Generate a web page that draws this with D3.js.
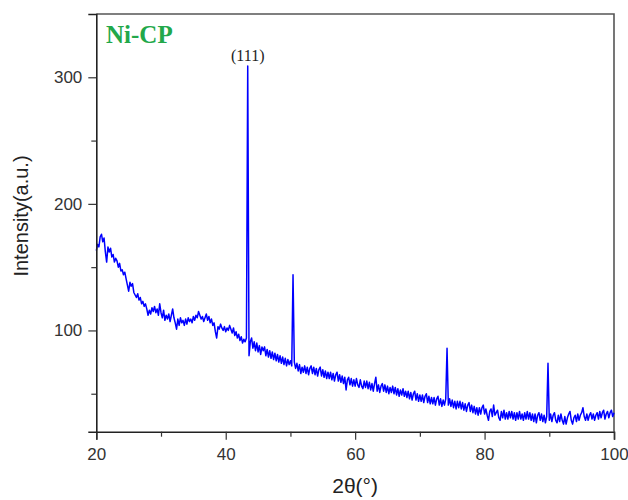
<!DOCTYPE html>
<html>
<head>
<meta charset="utf-8">
<script src="https://cdn.jsdelivr.net/npm/d3@7"></script>
<style>
    body { margin: 0; background: #fff; }
    svg { display: block; }
</style>
</head>
<body>
<div id="chart"></div>
<script>
// XRD pattern of Ni-CP, sampled every 0.2 degrees from 20 to 100.
const startAngle = 20;
const angleStep = 0.2;
const intensity = [
    163, 168, 166, 174, 176, 170, 173, 162, 154, 166,   // 20
    162, 165, 158, 160, 154, 157, 155, 150, 153, 147,   // 22
    148, 144, 146, 141, 136, 131, 138, 135, 137, 130,   // 24
    128, 126, 129, 124, 126, 121, 123, 119, 121, 117,   // 26
    112, 116, 113, 118, 115, 119, 114, 117, 112, 121,   // 28
    114, 110, 116, 108, 112, 109, 113, 107, 112, 117,   // 30
    110, 106, 101, 109, 104, 110, 106, 108, 104, 109,   // 32
    105, 110, 107, 109, 106, 111, 108, 112, 110, 115,   // 34
    112, 109, 111, 107, 110, 113, 108, 111, 106, 109,   // 36
    104, 106, 99, 94, 103, 101, 105, 102, 100, 103,     // 38
    99, 102, 100, 104, 101, 98, 102, 96, 99, 94,        // 40
    97, 92, 95, 90, 93, 91, 94, 309, 80, 91,            // 42
    94, 86, 91, 84, 90, 83, 88, 81, 87, 84,             // 44
    87, 80, 85, 79, 84, 78, 83, 77, 82, 76,             // 46
    81, 75, 80, 74, 79, 73, 78, 72, 77, 73,             // 48
    76, 72, 144, 75, 70, 74, 68, 73, 66, 71,            // 50
    67, 72, 66, 71, 65, 70, 72, 66, 71, 65,             // 52
    70, 64, 69, 71, 64, 69, 63, 68, 62, 67,             // 54
    62, 67, 61, 66, 60, 65, 67, 60, 65, 59,             // 56
    64, 58, 63, 53, 61, 63, 57, 62, 56, 61,             // 58
    56, 62, 57, 55, 61, 56, 54, 60, 55, 60,             // 60
    54, 59, 53, 58, 52, 58, 63, 52, 57, 51,             // 62
    56, 58, 52, 57, 51, 56, 50, 55, 51, 56,             // 64
    50, 55, 49, 54, 48, 53, 49, 54, 48, 52,             // 66
    47, 52, 46, 51, 45, 50, 52, 45, 50, 44,             // 68
    49, 44, 49, 43, 48, 50, 43, 48, 42, 47,             // 70
    42, 47, 41, 46, 48, 41, 46, 40, 45, 41,             // 72
    46, 86, 41, 46, 40, 45, 39, 44, 38, 44,             // 74
    39, 44, 38, 43, 37, 42, 36, 41, 43, 36,             // 76
    41, 35, 40, 34, 39, 33, 39, 34, 39, 41,             // 78
    34, 38, 33, 29, 36, 38, 32, 41, 33, 35,             // 80
    37, 31, 29, 36, 31, 37, 30, 35, 30, 36,             // 82
    31, 36, 30, 35, 29, 35, 30, 36, 30, 34,             // 84
    29, 35, 30, 36, 30, 35, 29, 34, 28, 34,             // 86
    27, 33, 35, 29, 34, 28, 33, 27, 32, 74,             // 88
    29, 34, 28, 33, 35, 29, 27, 33, 28, 34,             // 90
    29, 26, 32, 26, 31, 34, 36, 29, 26, 31,             // 92
    33, 28, 34, 29, 33, 35, 39, 32, 29, 34,             // 94
    29, 33, 35, 30, 34, 29, 33, 35, 30, 36,             // 96
    31, 35, 37, 30, 34, 36, 31, 35, 37, 32,             // 98
    35                                                  // 100
];

const xMajorTicks = [20, 40, 60, 80, 100];
const xMinorTicks = [30, 50, 70, 90];
const yMajorTicks = [100, 200, 300];
const yMinorTicks = [50, 150, 250];

const sampleName = 'Ni-CP';
const peakLabel = { angle: 43.4, value: 309, text: '(111)' };

const width = 628, height = 500;
const plot = { left: 96.3, right: 614, top: 14, bottom: 431.7 };

const svg = d3.select('#chart')
    .append('svg')
    .attr('width', width)
    .attr('height', height);

const x = d3.scaleLinear().domain([20, 100]).range([plot.left, plot.right]);
const y = d3.scaleLinear().domain([20, 350]).range([plot.bottom, plot.top]);

const data = intensity.map((v, i) => ({ angle: startAngle + i * angleStep, value: v }));

// Frame (top and right sides)
svg.append('path')
    .attr('d', `M${plot.left},${plot.top}H${plot.right}V${plot.bottom}`)
    .attr('fill', 'none')
    .attr('stroke', '#555')
    .attr('stroke-width', 1.6);

// Pattern line
svg.append('path')
    .datum(data)
    .attr('fill', 'none')
    .attr('stroke', '#0000ff')
    .attr('stroke-width', 1.5)
    .attr('stroke-linejoin', 'round')
    .attr('d', d3.line().x((d) => x(d.angle)).y((d) => y(d.value)));

// Axes
const tickFont = 'Liberation Sans, Arial, sans-serif';

const xAxis = svg.append('g')
    .attr('transform', `translate(0,${plot.bottom})`)
    .call(d3.axisBottom(x).tickValues(xMajorTicks).tickSize(8).tickPadding(6).tickFormat(d3.format('d')));
svg.append('g')
    .attr('transform', `translate(0,${plot.bottom})`)
    .call(d3.axisBottom(x).tickValues(xMinorTicks).tickSize(5).tickFormat(''))
    .call((g) => g.select('.domain').remove());

const yAxis = svg.append('g')
    .attr('transform', `translate(${plot.left},0)`)
    .call(d3.axisLeft(y).tickValues(yMajorTicks).tickSize(8).tickPadding(6).tickFormat(d3.format('d')));
svg.append('g')
    .attr('transform', `translate(${plot.left},0)`)
    .call(d3.axisLeft(y).tickValues(yMinorTicks).tickSize(5).tickFormat(''))
    .call((g) => g.select('.domain').remove());

svg.selectAll('.domain').attr('stroke', '#222').attr('stroke-width', 1.6);
svg.selectAll('.tick line').attr('stroke', '#333').attr('stroke-width', 1.2);
svg.selectAll('.tick text')
    .attr('font-family', tickFont)
    .attr('font-size', 17)
    .attr('fill', '#333');
xAxis.selectAll('.tick text').attr('dy', '0.85em');

// Axis titles
svg.append('text')
    .attr('x', (plot.left + plot.right) / 2)
    .attr('y', 493)
    .attr('text-anchor', 'middle')
    .attr('font-family', tickFont)
    .attr('font-size', 21)
    .attr('fill', '#222')
    .text('2θ(°)');

svg.append('text')
    .attr('transform', 'translate(28,216) rotate(-90)')
    .attr('text-anchor', 'middle')
    .attr('font-family', tickFont)
    .attr('font-size', 20)
    .attr('fill', '#222')
    .text('Intensity(a.u.)');

// Sample name and peak index
svg.append('text')
    .attr('x', 106)
    .attr('y', 43)
    .attr('font-family', 'Liberation Serif, Times New Roman, serif')
    .attr('font-weight', 'bold')
    .attr('font-size', 25)
    .attr('fill', '#22a84a')
    .text(sampleName);

svg.append('text')
    .attr('x', x(peakLabel.angle))
    .attr('y', y(peakLabel.value) - 5)
    .attr('text-anchor', 'middle')
    .attr('font-family', 'Liberation Serif, Times New Roman, serif')
    .attr('font-size', 16)
    .attr('fill', '#222')
    .text(peakLabel.text);
</script>
</body>
</html>
